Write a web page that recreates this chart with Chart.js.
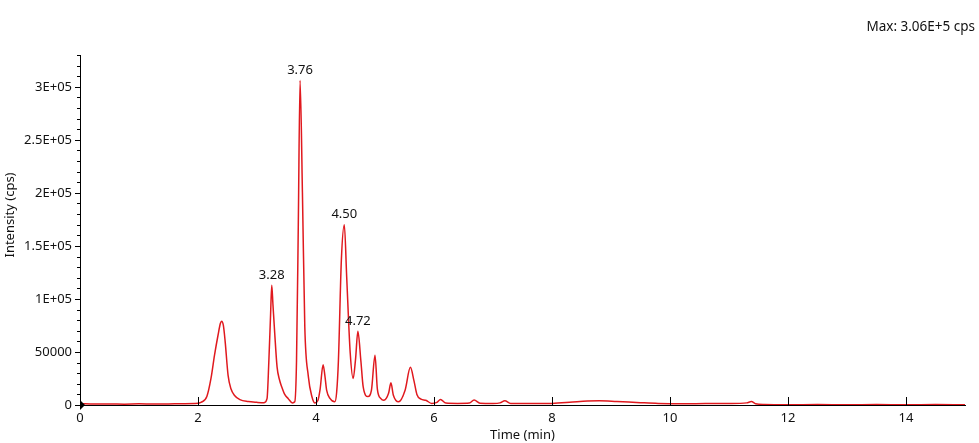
<!DOCTYPE html>
<html>
<head>
<meta charset="utf-8">
<script src="https://cdn.jsdelivr.net/npm/chart.js@4.4.1/dist/chart.umd.min.js"></script>
<style>
  body { margin: 0; background: #fff; }
  #wrap { width: 979px; height: 443px; position: relative; }
</style>
</head>
<body>
<div id="wrap"><canvas id="xic"></canvas></div>
<script>
  // retention time (min) and intensity (cps)
  const times = [0, 0.25, 0.5, 0.75, 1.0, 1.25, 1.5, 1.75, 1.95, 2.05, 2.15, 2.22, 2.28, 2.34, 2.38, 2.40, 2.43, 2.46, 2.51, 2.56, 2.62, 2.71, 2.85, 3.0, 3.12,
    3.17, 3.20, 3.23, 3.25, 3.27, 3.30, 3.34, 3.38, 3.42, 3.47, 3.53, 3.60,
    3.64, 3.67, 3.70, 3.73, 3.77, 3.81, 3.87, 3.93, 3.98,
    4.03, 4.07, 4.12, 4.15, 4.18, 4.24, 4.32,
    4.35, 4.38, 4.43, 4.48, 4.52, 4.58, 4.63, 4.67, 4.71, 4.76, 4.80, 4.88,
    4.94, 5.00, 5.04, 5.10, 5.15, 5.23, 5.27, 5.31, 5.40,
    5.51, 5.60, 5.66, 5.71, 5.78, 5.86, 5.96, 6.05, 6.11, 6.2, 6.4, 6.6, 6.68, 6.78,
    7.0, 7.12, 7.2, 7.3, 7.6, 8.0, 8.3, 8.6, 8.8, 9.1, 9.5, 9.8, 10.2, 10.6, 11.0, 11.3, 11.38, 11.45, 11.6,
    12.0, 12.5, 13.0, 13.5, 14.0, 14.5, 15.0];
  const intensity = [1200, 900, 1000, 800, 1100, 900, 1000, 1200, 1300, 2500, 8000, 25000, 47000, 66000, 77000, 79000, 75000, 60000, 28000, 15000, 9000, 5000, 3200, 2500, 2200,
    6000, 40000, 85000, 113000, 95000, 68000, 36000, 24000, 17000, 10000, 6000, 2000,
    3000, 42000, 170000, 306000, 200000, 74000, 27000, 8000, 2000,
    4000, 15000, 38000, 28000, 14000, 6000, 3000,
    12000, 42000, 137000, 170000, 121000, 49000, 25000, 43000, 69500, 42000, 17000, 8000,
    14000, 47000, 15000, 6000, 4500, 11000, 21000, 9500, 3000,
    14000, 35500, 23000, 10000, 5500, 4500, 1500, 2500, 5200, 1800, 1500, 1800, 4700, 1600,
    1400, 2000, 4000, 1500, 1300, 1500, 2500, 3800, 4000, 3300, 2200, 1500, 1200, 1300, 1400, 2000, 3200, 1200, 500,
    300, 400, 300, 400, 300, 400, 300];

  // axis ticks
  const yTicks = [0, 50000, 100000, 150000, 200000, 250000, 300000];
  const yTickLabels = ['0', '50000', '1E+05', '1.5E+05', '2E+05', '2.5E+05', '3E+05'];
  const xTicks = [0, 2, 4, 6, 8, 10, 12, 14];

  // labelled peaks
  const peakLabels = ['3.28', '3.76', '4.50', '4.72'];
  const peakTimes = [3.25, 3.73, 4.48, 4.71];
  const maxText = 'Max: 3.06E+5 cps';
  const yTitle = 'Intensity (cps)';

  const fontFam = '"Noto Sans", "Open Sans", sans-serif';

  const points = times.map((t, i) => ({ x: t, y: intensity[i] }));

  // ticks pointing into the plot, minor ticks on y, peak labels, origin marker
  const decor = {
    id: 'decor',
    afterDraw(chart) {
      const c = chart.ctx;
      const xs = chart.scales.x, ys = chart.scales.y;
      const y0 = ys.getPixelForValue(0);
      const x0 = xs.getPixelForValue(0);
      c.save();
      c.strokeStyle = '#000';
      c.lineWidth = 1;
      c.beginPath();
      xTicks.slice(1).forEach(t => {
        const px = Math.round(xs.getPixelForValue(t)) + 0.5;
        c.moveTo(px, y0);
        c.lineTo(px, y0 - 8);
      });
      for (let v = 0; v <= ys.max; v += 10000) {
        const py = Math.round(ys.getPixelForValue(v)) + 0.5;
        const len = v % 50000 === 0 ? 5 : 3;
        c.moveTo(x0 - len, py);
        c.lineTo(x0, py);
      }
      c.stroke();

      // origin marker
      c.fillStyle = '#000';
      c.beginPath();
      c.moveTo(x0, y0 - 5);
      c.lineTo(x0 + 5, y0);
      c.lineTo(x0, y0 + 5);
      c.closePath();
      c.fill();

      c.font = '13px ' + fontFam;
      c.fillStyle = '#111';
      c.textAlign = 'center';
      c.textBaseline = 'middle';
      peakLabels.forEach((lab, i) => {
        const k = times.indexOf(peakTimes[i]);
        c.fillText(lab, xs.getPixelForValue(times[k]), ys.getPixelForValue(intensity[k]) - 10);
      });

      c.font = '13.5px ' + fontFam;
      c.textAlign = 'right';
      c.fillText(maxText, 975, 27);

      // y title sits a little above the axis middle
      c.font = '13px ' + fontFam;
      c.translate(10, 215);
      c.rotate(-Math.PI / 2);
      c.textAlign = 'center';
      c.fillText(yTitle, 0, 0);
      c.restore();
    }
  };

  new Chart(document.getElementById('xic'), {
    type: 'line',
    data: {
      datasets: [{
        data: points,
        borderColor: '#e0191e',
        borderWidth: 1.5,
        pointRadius: 0,
        fill: false,
        cubicInterpolationMode: 'monotone'
      }]
    },
    options: {
      responsive: true,
      maintainAspectRatio: false,
      animation: false,
      layout: { padding: { top: 55, right: 14, left: 0, bottom: 0 } },
      plugins: { legend: { display: false }, tooltip: { enabled: false } },
      scales: {
        x: {
          type: 'linear',
          min: 0,
          max: 15,
          afterBuildTicks: s => { s.ticks = xTicks.map(v => ({ value: v })); },
          afterFit: s => { s.height = 38; },
          grid: { drawOnChartArea: false, drawTicks: false },
          border: { display: true, color: '#000', width: 1 },
          ticks: {
            padding: 5,
            autoSkip: false,
            maxRotation: 0,
            color: '#111',
            font: { family: fontFam, size: 13 },
            callback: v => String(v)
          },
          title: {
            display: true,
            text: 'Time (min)',
            color: '#111',
            font: { family: fontFam, size: 13 },
            padding: { top: 0, bottom: 0 }
          }
        },
        y: {
          type: 'linear',
          min: 0,
          max: 330000,
          afterBuildTicks: s => { s.ticks = yTicks.map(v => ({ value: v })); },
          afterFit: s => { s.width = 80; },
          grid: { drawOnChartArea: false, drawTicks: false },
          border: { display: true, color: '#000', width: 1 },
          ticks: {
            padding: 8,
            autoSkip: false,
            color: '#111',
            font: { family: fontFam, size: 13 },
            callback: (v, i) => yTickLabels[i]
          }
        }
      }
    },
    plugins: [decor]
  });
</script>
</body>
</html>
